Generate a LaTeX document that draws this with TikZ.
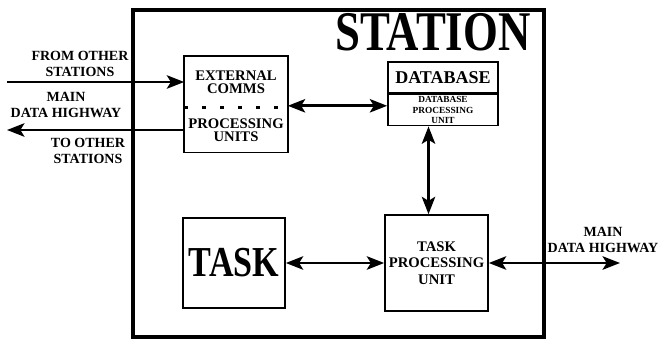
\documentclass[tikz,border=0pt]{standalone}
\usepackage{fontspec}
\setmainfont{Liberation Serif}
\newfontfamily\narrowface[FakeStretch=0.8]{Liberation Serif}
\usetikzlibrary{arrows.meta}

\begin{document}
\begin{tikzpicture}[x=0.75pt,y=-0.75pt
  ,>={Stealth[length=13pt,width=10pt,inset=3pt]}
  ,line width=2.2pt
  ,font=\bfseries]
  \tikzstyle{unit}=[draw,line width=1.2pt,inner sep=0pt,align=center
    ,font=\bfseries\fontsize{11}{10}\selectfont]
  \tikzstyle{part}=[unit,draw=none]
  \tikzstyle{label}=[inner sep=0pt,align=center
    ,font=\bfseries\fontsize{10.5}{12}\selectfont]

  \useasboundingbox (0,0) rectangle (660,345);

  % the station and its units
  \node[draw,line width=3pt,minimum width=308.25pt,minimum height=245.25pt]
    (station) at (338.5,173.5) {};
  \node[inner sep=0pt,font=\narrowface\bfseries\fontsize{42}{42}\selectfont]
    (title) at (433,32) {STATION};

  \node[part,minimum width=76.5pt,minimum height=37.5pt]
    (extcomms) at (236,82) {EXTERNAL\\COMMS};
  \node[part,minimum width=76.5pt,minimum height=32.25pt,anchor=north]
    (procunits) at (extcomms.south) {PROCESSING\\UNITS};
  \draw[line width=1.2pt] (extcomms.north west) rectangle (procunits.south east);
  \draw[line width=2pt,dash pattern=on 3pt off 10.5pt]
    (extcomms.south west) -- (extcomms.south east);

  \node[unit,minimum width=82.5pt,minimum height=23.25pt
    ,font=\bfseries\fontsize{13.5}{14}\selectfont]
    (dbhead) at (443,77.5) {DATABASE};
  \node[unit,minimum width=82.5pt,minimum height=23.25pt,anchor=north
    ,font=\bfseries\fontsize{7}{8}\selectfont]
    (dbunit) at (dbhead.south) {DATABASE\\PROCESSING\\UNIT};

  \node[unit,minimum width=76.5pt,minimum height=67.5pt
    ,font=\narrowface\bfseries\fontsize{32}{32}\selectfont]
    (task) at (234,263) {TASK};
  \node[unit,minimum width=77.25pt,minimum height=72pt
    ,font=\bfseries\fontsize{11}{12.4}\selectfont]
    (tpu) at (436.5,263) {TASK\\PROCESSING\\UNIT};

  % free ends of the highway links
  \coordinate (fromin) at (7,82);
  \coordinate (toout) at (7,130);
  \coordinate (highway) at (620,263);

  \node[label] (fromlbl) at (80,63.5) {FROM OTHER\\STATIONS};
  \node[label] (mainleft) at (66,104.5) {MAIN\\DATA HIGHWAY};
  \node[label] (tolbl) at (88,151) {TO OTHER\\STATIONS};
  \node[label] (mainright) at (603,239.5) {MAIN\\DATA HIGHWAY};

  \path
  (fromin) edge [->] (fromin -| extcomms.west)
  (toout -| procunits.west) edge [->] (toout)
  ([yshift=1.5]extcomms.south east) edge [<->]
    ([yshift=1.5]extcomms.south east -| dbunit.west)
  ([xshift=-6]tpu.north) edge [<->] ([xshift=-6]tpu.north |- dbunit.south)
  (task) edge [<->] (tpu)
  (tpu.east) edge [<->] (highway)
  ;

\end{tikzpicture}
\end{document}
